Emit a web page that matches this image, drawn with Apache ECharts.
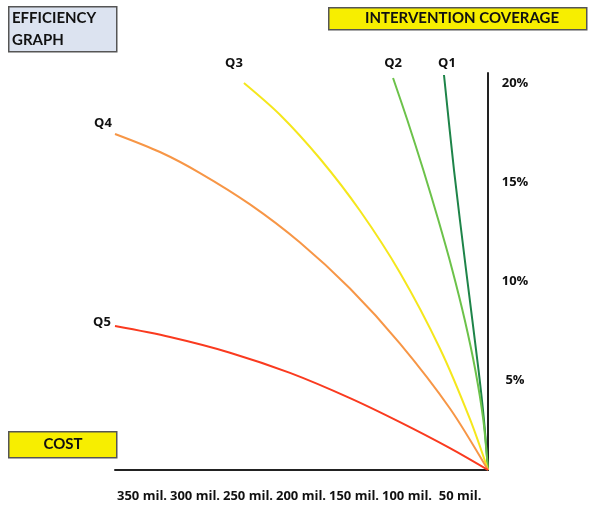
<!DOCTYPE html>
<html>
<head>
<meta charset="utf-8">
<script src="https://cdn.jsdelivr.net/npm/echarts@6/dist/echarts.min.js"></script>
<style>
html,body{margin:0;padding:0;background:#fff;}
#chart{width:592px;height:506px;}
</style>
</head>
<body>
<div id="chart"></div>
<script>
// Cost (arbitrary units, 0 at origin) and intervention coverage (%)
var q1Cost = [41.3, 31.9, 20.6, 8.9, 3.8, 0];
var q1Cov  = [19.9, 15.11, 10.08, 5.04, 2.52, 0];
var q2Cost = [89.1, 75.7, 60.7, 46.6, 33.5, 21.8, 11.9, 4.4, 0];
var q2Cov  = [19.75, 17.63, 15.11, 12.59, 10.08, 7.56, 5.04, 2.52, 0];
var q3Cost = [229.0, 195.2, 157.6, 120.1, 82.6, 45.0, 16.9, 0];
var q3Cov  = [19.5, 17.9, 15.68, 13.06, 9.94, 6.11, 2.56, 0];
var q4Cost = [350, 307.8, 270.2, 223.3, 176.4, 129.5, 82.6, 35.7, 0];
var q4Cov  = [16.93, 16.02, 14.96, 13.38, 11.46, 9.14, 6.37, 3.10, 0];
var q5Cost = [350, 298.4, 242.1, 185.8, 129.5, 82.6, 35.7, 0];
var q5Cov  = [7.25, 6.70, 5.91, 4.89, 3.62, 2.41, 1.10, 0];

var seriesNames = ['Q1', 'Q2', 'Q3', 'Q4', 'Q5'];
var costTicks = [50, 100, 150, 200, 250, 300, 350];
var coverageTicks = [5, 10, 15, 20];

var FONT = '"Open Sans", sans-serif';
var TITLE_FONT = 'Lato, "Open Sans", sans-serif';

function buildSeries(name, costs, covs, color, labelOffset) {
  var data = costs.map(function (c, i) {
    var item = { value: [c, covs[i]] };
    if (i === 0) {
      item.label = {
        show: true,
        position: 'inside',
        formatter: name,
        offset: labelOffset,
        color: '#111',
        fontFamily: FONT,
        fontWeight: 'bold',
        fontSize: 13
      };
    }
    return item;
  });
  return {
    name: name,
    type: 'line',
    xAxisIndex: 0,
    yAxisIndex: 0,
    data: data,
    smooth: 0.3,
    symbol: 'circle',
    symbolSize: 0,
    showSymbol: true,
    showAllSymbol: true,
    clip: false,
    lineStyle: { color: color, width: 2 },
    itemStyle: { color: color },
    label: { show: false },
    emphasis: { disabled: true },
    silent: true,
    z: 3
  };
}

var chart = echarts.init(document.getElementById('chart'), null, { renderer: 'canvas' });

var option = {
  backgroundColor: '#ffffff',
  animation: false,
  grid: { left: 115, right: 104, top: 73, bottom: 36 },
  xAxis: [
    {
      type: 'value', inverse: true, min: 0, max: 350, position: 'bottom',
      axisLine: { show: true, lineStyle: { color: '#222', width: 2 } },
      axisTick: { show: false }, axisLabel: { show: false }, splitLine: { show: false }
    },
    {
      type: 'value', inverse: true, min: 23.6, max: 375.5, position: 'bottom',
      axisLine: { show: false }, axisTick: { show: false }, splitLine: { show: false },
      axisLabel: {
        show: true, customValues: costTicks, margin: 20,
        formatter: '{value} mil.', color: '#111',
        fontFamily: FONT, fontWeight: 'bold', fontSize: 13
      }
    }
  ],
  yAxis: [
    {
      type: 'value', min: 0, max: 20, position: 'right',
      axisLine: { show: true, lineStyle: { color: '#222', width: 2 } },
      axisTick: { show: false }, axisLabel: { show: false }, splitLine: { show: false }
    },
    {
      type: 'value', min: 0.45, max: 20.5, position: 'right',
      axisLine: { show: false }, axisTick: { show: false }, splitLine: { show: false },
      axisLabel: {
        show: true, customValues: coverageTicks, margin: 27, align: 'center',
        formatter: '{value}%', color: '#111',
        fontFamily: FONT, fontWeight: 'bold', fontSize: 13
      }
    }
  ],
  series: [
    buildSeries(seriesNames[0], q1Cost, q1Cov, '#1e8449', [3, -12]),
    buildSeries(seriesNames[1], q2Cost, q2Cov, '#6cc24a', [0, -15]),
    buildSeries(seriesNames[2], q3Cost, q3Cov, '#f5e71c', [-10, -20]),
    buildSeries(seriesNames[3], q4Cost, q4Cov, '#f79646', [-12, -11]),
    buildSeries(seriesNames[4], q5Cost, q5Cov, '#fa3a1f', [-13, -4])
  ],
  graphic: [
    {
      type: 'rect', left: 8, top: 6, z: 10,
      shape: { width: 108, height: 45 },
      style: { fill: '#dce3f0', stroke: '#555', lineWidth: 1.5 }
    },
    {
      type: 'text', left: 12, top: 7, z: 11,
      style: {
        text: 'EFFICIENCY\nGRAPH', fill: '#111', lineHeight: 22,
        font: 'bold 15px ' + TITLE_FONT
      }
    },
    {
      type: 'rect', left: 328, top: 7, z: 10,
      shape: { width: 258, height: 22 },
      style: { fill: '#f7ee00', stroke: '#555', lineWidth: 1.5 }
    },
    {
      type: 'text', x: 462, y: 18, z: 11,
      style: {
        text: 'INTERVENTION COVERAGE', fill: '#111',
        align: 'center', verticalAlign: 'middle',
        font: 'bold 15px ' + TITLE_FONT
      }
    },
    {
      type: 'rect', left: 8, top: 431, z: 10,
      shape: { width: 108, height: 26 },
      style: { fill: '#f7ee00', stroke: '#555', lineWidth: 1.5 }
    },
    {
      type: 'text', x: 63, y: 444, z: 11,
      style: {
        text: 'COST', fill: '#111',
        align: 'center', verticalAlign: 'middle',
        font: 'bold 15px ' + TITLE_FONT
      }
    }
  ]
};

chart.setOption(option);
</script>
</body>
</html>
